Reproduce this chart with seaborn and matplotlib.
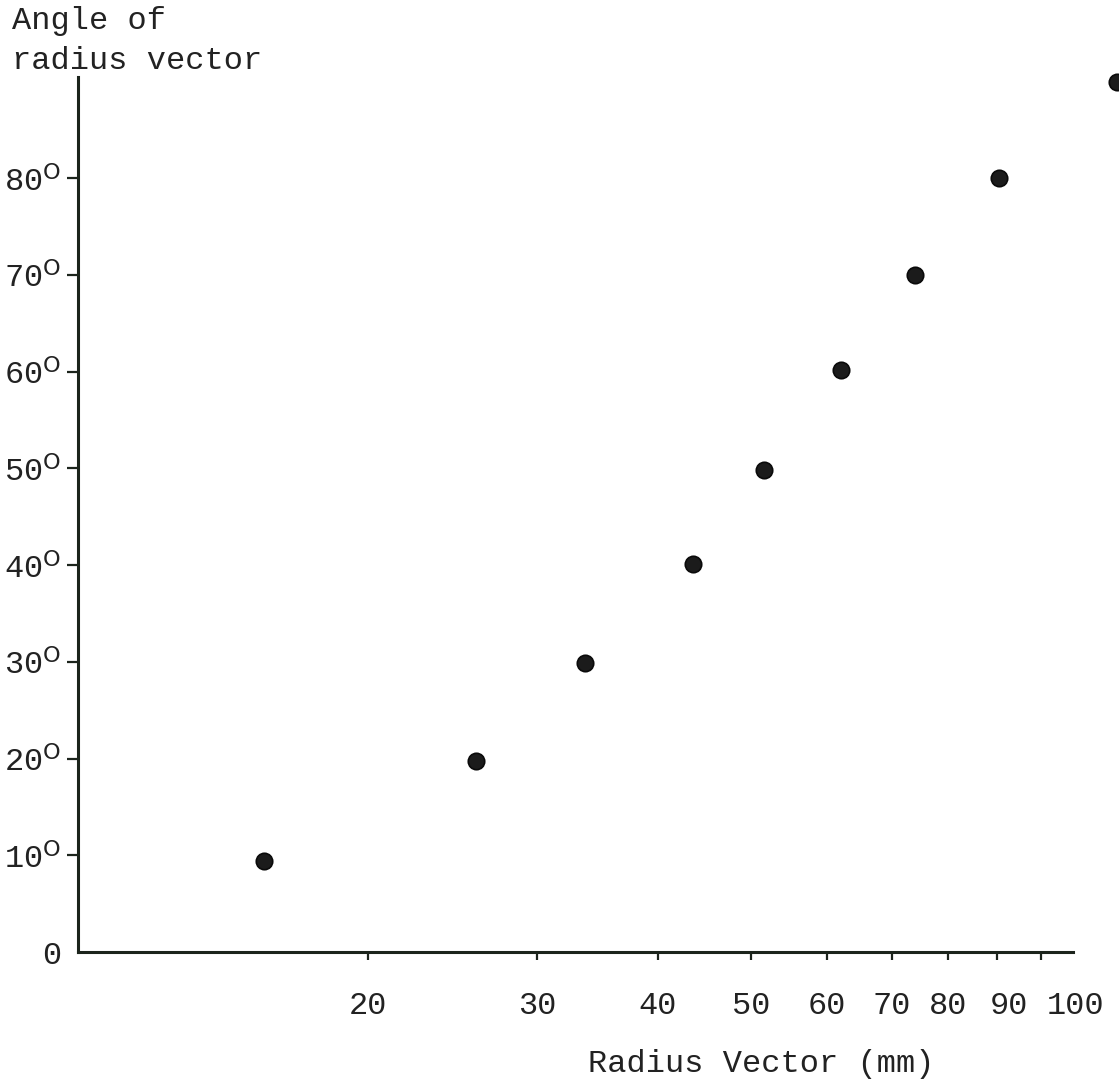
import matplotlib
matplotlib.use("Agg")
import matplotlib.pyplot as plt
import matplotlib.transforms as mtransforms
import seaborn as sns
import pandas as pd
from matplotlib.ticker import FixedLocator, NullLocator

# ---- data ----
radius_mm = [15.6, 25.9, 33.6, 43.5, 51.6, 62.0, 74.0, 90.4, 120.0]
angle_deg = [9.4, 19.7, 29.9, 40.1, 49.8, 60.2, 70.0, 80.0, 89.9]
x_ticks = [20, 30, 40, 50, 60, 70, 80, 90, 100]
x_tick_labels = ["20", "30", "40", "50", "60", "70", "80", "90", "100"]
y_ticks = [0, 10, 20, 30, 40, 50, 60, 70, 80]
y_tick_labels = ["0"] + [rf"{v}$^{{\mathsf{{O}}}}$" for v in y_ticks[1:]]
x_label = "Radius Vector (mm)"
y_label = "Angle of\nradius vector"

df = pd.DataFrame({"radius": radius_mm, "angle": angle_deg})

sns.set_theme(style="white")
plt.rcParams["font.family"] = ["Liberation Mono", "DejaVu Sans"]
plt.rcParams["mathtext.fontset"] = "custom"
plt.rcParams["mathtext.rm"] = "Liberation Mono"
plt.rcParams["mathtext.it"] = "Liberation Mono"
plt.rcParams["mathtext.bf"] = "Liberation Mono"
plt.rcParams["mathtext.sf"] = "DejaVu Sans"

W, H = 1119, 1081
fig = plt.figure(figsize=(W / 100, H / 100), dpi=100)
fig.patch.set_facecolor("white")
ax_left, ax_bottom_px, ax_top_px = 78, 952, 60
ax = fig.add_axes([ax_left / W, (H - ax_bottom_px) / H,
                   (W - ax_left) / W, (ax_bottom_px - ax_top_px) / H])
ax.set_facecolor("white")

sns.scatterplot(data=df, x="radius", y="angle", ax=ax, s=140,
                color="#1b1b1b", edgecolor="#0a0a0a", linewidth=1.2,
                legend=False, clip_on=False, zorder=5)

ax.set_xscale("log")
ax.set_xlim(10, 120.5)
ax.set_ylim(0, 92.2)

ax.xaxis.set_major_locator(FixedLocator(x_ticks))
ax.xaxis.set_minor_locator(NullLocator())
ax.set_xticklabels(x_tick_labels)
ax.set_yticks(y_ticks)
ax.set_yticklabels(y_tick_labels)

axis_color = "#1c241c"
for side in ["top", "right"]:
    ax.spines[side].set_visible(False)
ax.spines["left"].set_bounds(0, 90.4)
ax.spines["bottom"].set_bounds(10, 108)
for side in ["left", "bottom"]:
    ax.spines[side].set_linewidth(2.2)
    ax.spines[side].set_color(axis_color)

ax.tick_params(axis="x", which="major", bottom=True, direction="out", length=6,
               width=1.6, color=axis_color, labelsize=23, labelcolor="#222222", pad=22)
ax.tick_params(axis="y", which="major", left=True, direction="out", length=8,
               width=1.6, color=axis_color, labelsize=23, labelcolor="#222222", pad=4)
# no visible tick at the origin
ax.yaxis.get_major_ticks()[0].tick1line.set_visible(False)

# typewritten labels sit slightly off their ticks at the right end
label_shift_px = {"90": 12, "100": 35}
for lab in ax.get_xticklabels():
    dx = label_shift_px.get(lab.get_text(), 0)
    if dx:
        lab.set_transform(lab.get_transform() +
                          mtransforms.ScaledTranslation(dx / 100, 0, fig.dpi_scale_trans))

ax.set_xlabel(x_label, fontsize=23, color="#222222")
ax.xaxis.set_label_coords((761 - ax_left) / (W - ax_left),
                          -(1064 - ax_bottom_px) / (ax_bottom_px - ax_top_px))
ax.xaxis.label.set_va("center")

ax.set_ylabel(y_label, fontsize=23, color="#222222", rotation=0,
              ha="left", va="center", linespacing=1.45)
ax.yaxis.set_label_coords((12 - ax_left) / (W - ax_left),
                          (ax_bottom_px - 41) / (ax_bottom_px - ax_top_px))

fig.savefig("out.png", dpi=100, facecolor="white")
